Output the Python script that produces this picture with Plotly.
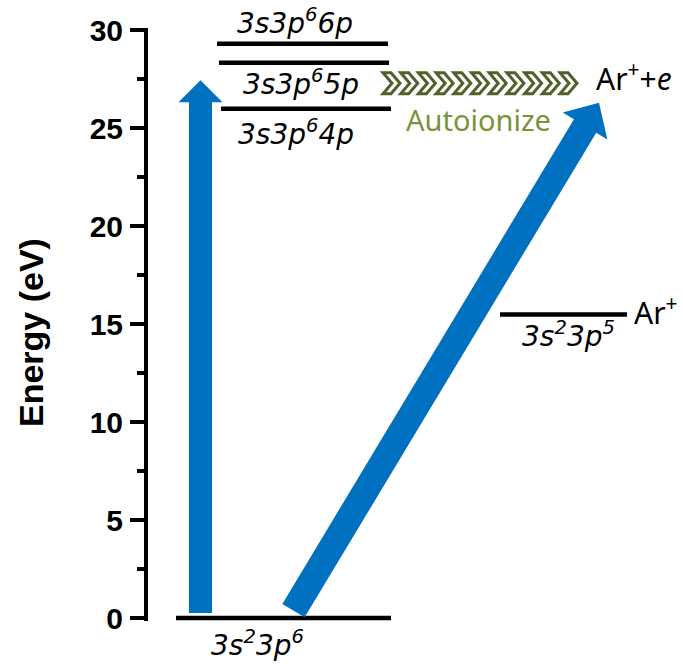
import numpy as np
import plotly.graph_objects as go

# ---------------- data ----------------
level_labels = ["3s<sup>2</sup>3p<sup>6</sup>", "3s3p<sup>6</sup>4p", "3s3p<sup>6</sup>5p",
                "3s3p<sup>6</sup>6p", "3s<sup>2</sup>3p<sup>5</sup>"]
level_energy = [0.0, 26.0, 28.35, 29.32, 15.5]          # eV
level_x_start = [176, 221, 219, 217, 500]
level_x_end = [391, 391, 389, 388, 627]
label_x = [257, 296, 301, 295, 568]
label_energy = [-1.3, 24.8, 27.35, 30.45, 14.5]

species_labels = ["Ar<sup>+</sup>", "Ar<sup>+</sup>+<i>e</i>"]
species_x = [632, 594]
species_energy = [15.65, 27.6]

arrow_tail_x = [200.5, 293.5]
arrow_tail_energy = [0.26, 0.38]
arrow_tip_x = [200.5, 599]
arrow_tip_energy = [27.45, 26.3]
arrow_shaft_width = [23, 26]
arrow_head_width = [44, 52]
arrow_head_length = [22, 27]

autoionize_energy = 27.3
autoionize_x_start = 383
autoionize_count = 11
autoionize_step = 17.7
autoionize_label_x = 478
autoionize_label_energy = 25.45

y_ticks = [0, 5, 10, 15, 20, 25, 30]

# ---------------- layout constants ----------------
W, H = 683, 665
M_L, M_R, M_T, M_B = 148, 0, 28, 44
Y_RANGE = [-0.15, 30.12]
X_RANGE = [M_L, W - M_R]
plot_h = H - M_T - M_B
k = plot_h / (Y_RANGE[1] - Y_RANGE[0])   # pixels per eV

BLUE = "#0070C0"
DARK_GREEN = "#4F6228"
LIGHT_GREEN = "#77933C"


def px_to_paper(x):
    return (x - X_RANGE[0]) / (X_RANGE[1] - X_RANGE[0])


def e_to_paper(e):
    return (e - Y_RANGE[0]) / (Y_RANGE[1] - Y_RANGE[0])


fig = go.Figure()

# energy levels
for x0, x1, e in zip(level_x_start, level_x_end, level_energy):
    fig.add_trace(go.Scatter(x=[x0, x1], y=[e, e], mode="lines",
                             line=dict(color="black", width=4.5),
                             hoverinfo="skip", showlegend=False))

# level labels
for txt, lx, le in zip(level_labels, label_x, label_energy):
    fig.add_annotation(x=px_to_paper(lx), y=e_to_paper(le), xref="paper", yref="paper",
                       text="<i>" + txt + "</i>",
                       showarrow=False, xanchor="center", yanchor="middle",
                       font=dict(family="DejaVu Sans", size=28, color="black"))

for txt, sx, se in zip(species_labels, species_x, species_energy):
    fig.add_annotation(x=px_to_paper(sx), y=e_to_paper(se), xref="paper", yref="paper",
                       text=txt, showarrow=False, xanchor="left", yanchor="middle",
                       font=dict(family="Noto Sans", size=30, color="black"))


# arrows (polygons computed in pixel-like space)
def arrow_path(tx, te, px, pe, sw, hw, hl):
    T = np.array([tx, te * k])
    P = np.array([px, pe * k])
    u = (P - T) / np.linalg.norm(P - T)
    n = np.array([u[1], -u[0]])
    B = P - u * hl
    pts = [T + n * sw / 2, B + n * sw / 2, B + n * hw / 2, P,
           B - n * hw / 2, B - n * sw / 2, T - n * sw / 2]
    s = ""
    for i, p in enumerate(pts):
        s += ("M" if i == 0 else "L") + f"{p[0]:.2f},{p[1] / k:.4f} "
    return s + "Z"


for a in zip(arrow_tail_x, arrow_tail_energy, arrow_tip_x, arrow_tip_energy,
             arrow_shaft_width, arrow_head_width, arrow_head_length):
    fig.add_shape(type="path", path=arrow_path(*a), xref="x", yref="y",
                  fillcolor=BLUE, line=dict(width=0), layer="above")

# autoionization chevrons
half_h = 10.5 / k
t, d = 8.0, 9.0
for i in range(autoionize_count):
    x0 = autoionize_x_start + i * autoionize_step
    top, mid, bot = autoionize_energy + half_h, autoionize_energy, autoionize_energy - half_h
    path = (f"M{x0},{top} L{x0 + t},{top} L{x0 + t + d},{mid} L{x0 + t},{bot} "
            f"L{x0},{bot} L{x0 + d},{mid} Z")
    fig.add_shape(type="path", path=path, xref="x", yref="y",
                  fillcolor="white", line=dict(color=DARK_GREEN, width=3), layer="above")

fig.add_annotation(x=px_to_paper(autoionize_label_x), y=e_to_paper(autoionize_label_energy),
                   xref="paper", yref="paper",
                   text="Autoionize", showarrow=False, xanchor="center", yanchor="middle",
                   font=dict(family="Noto Sans", size=29, color=LIGHT_GREEN))

# axis title
fig.add_annotation(x=px_to_paper(31), y=e_to_paper(14.55), xref="paper", yref="paper",
                   text="<b>Energy (eV)</b>",
                   textangle=-90, showarrow=False, xanchor="center", yanchor="middle",
                   font=dict(family="Liberation Sans", size=34, color="black"))

fig.update_layout(
    width=W, height=H,
    margin=dict(l=M_L, r=M_R, t=M_T, b=M_B),
    paper_bgcolor="white", plot_bgcolor="white",
    showlegend=False,
    xaxis=dict(range=X_RANGE, visible=False, fixedrange=True),
    yaxis=dict(range=Y_RANGE, tickvals=y_ticks, ticks="outside", ticklen=14,
               tickwidth=4, tickcolor="black", showline=True, linewidth=4,
               linecolor="black", showgrid=False, zeroline=False,
               ticklabelstandoff=1,
               tickfont=dict(family="Liberation Sans", size=30, color="black", weight="bold"),
               minor=dict(dtick=2.5, ticks="outside", ticklen=7, tickwidth=4,
                          tickcolor="black", showgrid=False),
               fixedrange=True),
)

fig.write_html("out.html")
